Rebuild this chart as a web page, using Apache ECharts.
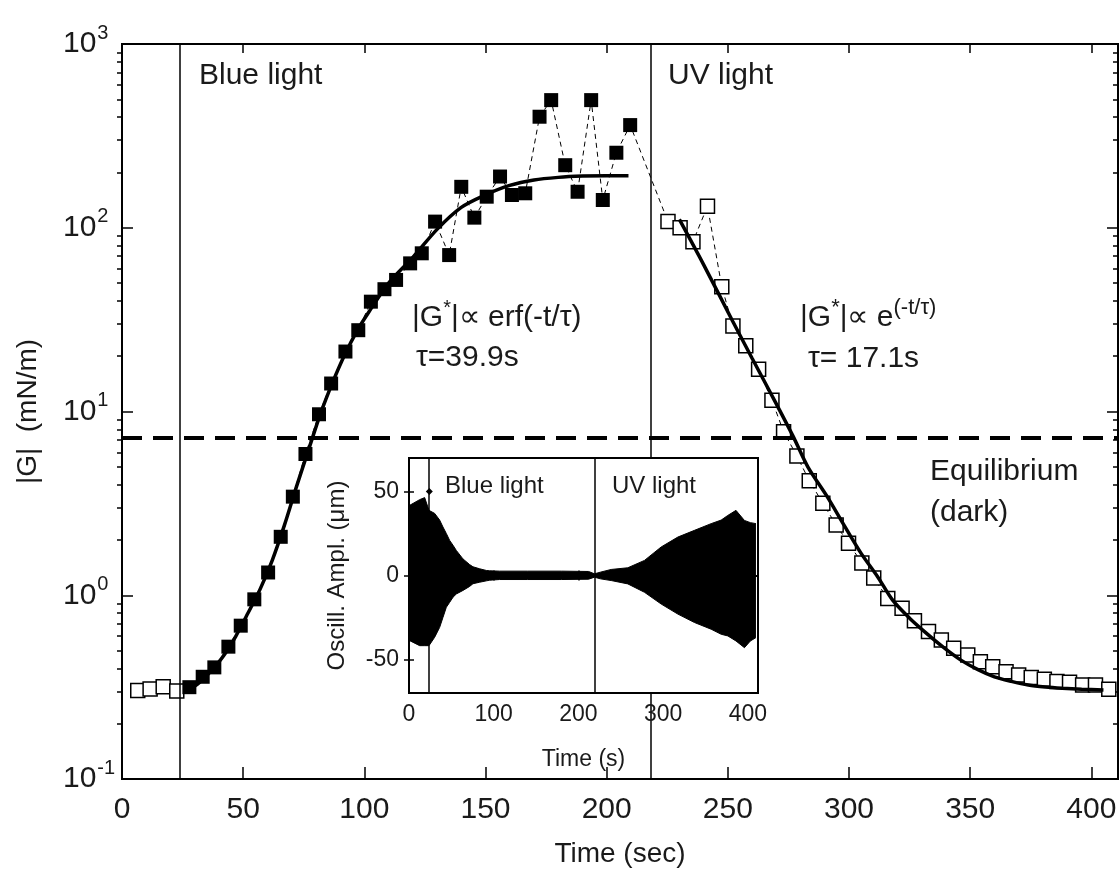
<!DOCTYPE html>
<html>
<head>
<meta charset="utf-8">
<script src="https://cdn.jsdelivr.net/npm/echarts@6/dist/echarts.min.js"></script>
<style>html,body{margin:0;background:#fff}#main{width:1120px;height:875px}</style>
</head>
<body>
<div id="main"></div>
<script>
(function () {
  var font = "'Liberation Sans', Arial, sans-serif";

  // light switching times (s) and the dark equilibrium modulus
  var lightOn = [23.7, 218];
  var insetLightOn = [23.6, 219];
  var equilibriumG = 7.2;

  // |G| before the blue light (open squares)
  var darkTime = [6.5, 11.6, 17.0, 22.6];
  var darkG = [0.303, 0.309, 0.318, 0.301];

  // |G| under blue light (filled squares)
  var blueTime = [27.8, 33.3, 38.1, 43.9, 49.0, 54.6, 60.3, 65.5, 70.5, 75.7, 81.3, 86.3, 92.2, 97.5,
    102.7, 108.3, 113.1, 118.9, 123.7, 129.2, 135.0, 140.0, 145.4, 150.5, 156.0, 160.9, 166.4,
    172.3, 177.1, 182.9, 188.0, 193.6, 198.4, 204.0, 209.7];
  var blueG = [0.316, 0.360, 0.405, 0.525, 0.683, 0.95, 1.33, 2.08, 3.44, 5.87, 9.66, 14.2, 21.2, 27.7,
    39.6, 46.3, 52, 64, 72.6, 108, 71, 167, 113.5, 147.6, 190, 150.7, 154,
    402, 495, 219, 157, 495, 141.6, 256, 362];

  // |G| under UV light (open squares)
  var uvTime = [225.3, 230.3, 235.6, 241.6, 247.5, 252.1, 257.4, 262.7, 268.2, 273.0, 278.5, 283.6,
    289.2, 294.7, 299.8, 305.3, 310.2, 316.0, 321.9, 327.0, 332.8, 338.1, 343.2, 349.0, 354.2,
    359.3, 364.8, 370.0, 375.2, 380.6, 385.8, 391.0, 396.4, 401.7, 407.2];
  var uvG = [108, 100, 84, 131, 47.8, 29.2, 22.8, 17, 11.5, 7.77, 5.73, 4.2,
    3.17, 2.41, 1.92, 1.50, 1.24, 0.96, 0.85, 0.727, 0.634, 0.571, 0.514, 0.473, 0.435,
    0.408, 0.384, 0.368, 0.357, 0.349, 0.339, 0.336, 0.325, 0.325, 0.308];

  // fitted curves
  var erfTime = [27, 32, 37, 42, 47, 52, 57, 62, 67, 72, 77, 82, 87, 92, 97, 102, 110, 120, 130, 140,
    150, 160, 170, 180, 190, 200, 209];
  var erfG = [0.30, 0.335, 0.39, 0.47, 0.60, 0.80, 1.08, 1.55, 2.4, 3.9, 6.2, 9.8, 14.5, 20.5, 27.5, 35,
    50, 69, 98, 129, 151, 170, 182, 188, 191, 192, 192];
  var expTime = [230, 240, 252, 260, 270, 277, 283, 291, 298, 305, 312, 318, 325, 332, 339, 346, 353,
    360, 367, 374, 381, 388, 396, 405];
  var expG = [111, 63, 31, 19.5, 11, 7.3, 5.0, 3.44, 2.4, 1.69, 1.25, 0.94, 0.75, 0.62, 0.52, 0.445,
    0.395, 0.36, 0.34, 0.325, 0.317, 0.312, 0.308, 0.305];

  // inset: envelope of the oscillation amplitude (um)
  var insetTime = [0.8, 12.6, 18.5, 23.6, 30.3, 36.2, 40.1, 44.1, 48, 52, 55.9, 63.7, 71.6, 75.5, 83.4,
    91.3, 95.2, 107, 140, 180, 212, 219, 226, 238.7, 258.3, 278, 297.7, 317.4, 337, 356.7, 368.5,
    376.4, 386, 396, 403, 409.6];
  var insetUpper = [41.8, 45.2, 46.4, 38.8, 37, 33, 28.9, 25, 20.9, 18, 14.9, 9.9, 6.5, 5.2, 4,
    3, 2.8, 2.6, 2.6, 2.6, 2.4, 1, 2, 3.6, 4.6, 9, 17, 22.9, 26.9, 30.9, 33,
    35.8, 38.8, 32.8, 31.5, 30.9];
  var insetLower = [-38.8, -41.8, -41.8, -41.8, -36.8, -30.9, -25, -18.9, -16, -12.9, -11, -8.9, -6.5, -4.9, -4,
    -3.2, -2.8, -2.4, -2.4, -2.4, -2.2, -1, -2, -3, -5, -10, -17, -23, -28, -32, -35,
    -36, -39, -43, -39, -37];
  var insetMarker = [[24, 50]];

  var yMajor = [0.1, 1, 10, 100, 1000];
  var yMinor = [];
  yMajor.slice(0, -1).forEach(function (d) {
    for (var k = 2; k <= 9; k++) yMinor.push(+(d * k).toPrecision(3));
  });
  var insetTicks = [-50, 0, 50];

  function pairs(xs, ys) {
    return xs.map(function (x, i) { return [x, ys[i]]; });
  }

  var myChart = echarts.init(document.getElementById('main'));

  var black = '#000';
  var ink = '#1a1a1a';
  var tickLine = { color: black, width: 1.5 };

  var option = {
    animation: false,
    backgroundColor: '#fff',
    grid: [
      { left: 122, top: 44, width: 996, height: 735, show: true, borderColor: black, borderWidth: 2 },
      { left: 409, top: 458, width: 349, height: 235, show: true, backgroundColor: '#fff',
        borderColor: black, borderWidth: 2, z: 10 }
    ],
    xAxis: [
      {
        gridIndex: 0, type: 'value', min: 0, max: 411, interval: 50,
        axisLine: { lineStyle: { color: black, width: 2 } },
        axisTick: { inside: true, length: 12, lineStyle: tickLine },
        axisLabel: { fontSize: 30, color: ink, fontFamily: font, margin: 16 },
        splitLine: { show: false },
        name: 'Time (sec)', nameLocation: 'middle', nameGap: 61,
        nameTextStyle: { fontSize: 28, color: ink, fontFamily: font }
      },
      {
        gridIndex: 0, type: 'value', position: 'top', min: 0, max: 411, interval: 50,
        axisLine: { lineStyle: { color: black, width: 2 } },
        axisTick: { inside: true, length: 9, lineStyle: tickLine },
        axisLabel: { show: false }, splitLine: { show: false }
      },
      {
        gridIndex: 1, type: 'value', min: 0, max: 412, interval: 100, z: 11,
        axisLine: { lineStyle: { color: black, width: 2 } },
        axisTick: { inside: true, length: 5, lineStyle: tickLine },
        axisLabel: { fontSize: 23, color: ink, fontFamily: font, margin: 10 },
        splitLine: { show: false },
        name: 'Time (s)', nameLocation: 'middle', nameGap: 55,
        nameTextStyle: { fontSize: 23, color: ink, fontFamily: font }
      },
      {
        gridIndex: 1, type: 'value', position: 'top', min: 0, max: 412, interval: 100, z: 11,
        axisLine: { lineStyle: { color: black, width: 2 } },
        axisTick: { inside: true, length: 5, lineStyle: tickLine },
        axisLabel: { show: false }, splitLine: { show: false }
      }
    ],
    yAxis: [
      {
        gridIndex: 0, type: 'log', logBase: 10, min: 0.1, max: 1000,
        axisLine: { lineStyle: { color: black, width: 2 } },
        axisTick: { inside: true, length: 11, lineStyle: tickLine, customValues: yMajor },
        axisLabel: {
          customValues: yMajor, align: 'left', margin: 59,
          formatter: function (v) {
            return '{b|10}{s|' + Math.round(Math.log10(v)) + '}';
          },
          rich: {
            b: { fontSize: 30, color: ink, fontFamily: font },
            s: { fontSize: 20, color: ink, fontFamily: font, padding: [0, 0, 22, 1] }
          }
        },
        splitLine: { show: false },
        name: '|G|  (mN/m)', nameLocation: 'middle', nameGap: 80, nameRotate: 90,
        nameTextStyle: { fontSize: 28, color: ink, fontFamily: font }
      },
      {
        gridIndex: 0, type: 'log', logBase: 10, min: 0.1, max: 1000,
        axisLine: { show: false },
        axisTick: { inside: true, length: 5, lineStyle: tickLine, customValues: yMinor },
        axisLabel: { show: false }, splitLine: { show: false }
      },
      {
        gridIndex: 0, type: 'log', logBase: 10, min: 0.1, max: 1000, position: 'right',
        axisLine: { lineStyle: { color: black, width: 2 } },
        axisTick: { inside: true, length: 11, lineStyle: tickLine, customValues: yMajor },
        axisLabel: { show: false }, splitLine: { show: false }
      },
      {
        gridIndex: 0, type: 'log', logBase: 10, min: 0.1, max: 1000, position: 'right',
        axisLine: { show: false },
        axisTick: { inside: true, length: 5, lineStyle: tickLine, customValues: yMinor },
        axisLabel: { show: false }, splitLine: { show: false }
      },
      {
        gridIndex: 1, type: 'value', min: -70, max: 70, z: 11,
        axisLine: { lineStyle: { color: black, width: 2 } },
        axisTick: { inside: true, length: 5, lineStyle: tickLine, customValues: insetTicks },
        axisLabel: { customValues: insetTicks, fontSize: 23, color: ink, fontFamily: font, margin: 10 },
        splitLine: { show: false },
        name: 'Oscill. Ampl. (\u03bcm)', nameLocation: 'middle', nameGap: 60, nameRotate: 90,
        nameTextStyle: { fontSize: 24, color: ink, fontFamily: font }
      },
      {
        gridIndex: 1, type: 'value', min: -70, max: 70, position: 'right', z: 11,
        axisLine: { lineStyle: { color: black, width: 2 } },
        axisTick: { inside: true, length: 5, lineStyle: tickLine, customValues: insetTicks },
        axisLabel: { show: false }, splitLine: { show: false }
      }
    ],
    series: [
      {
        name: 'connect', type: 'line', xAxisIndex: 0, yAxisIndex: 0, z: 2,
        data: pairs(blueTime.concat(uvTime), blueG.concat(uvG)),
        symbol: 'none', lineStyle: { color: black, width: 1, type: [5, 4] },
        markLine: {
          silent: true, symbol: 'none', label: { show: false },
          lineStyle: { color: black, width: 1.5, type: 'solid' },
          data: [
            { xAxis: lightOn[0] },
            { xAxis: lightOn[1] },
            { yAxis: equilibriumG, lineStyle: { color: black, width: 4, type: [20, 11] } }
          ]
        }
      },
      {
        name: 'dark', type: 'scatter', xAxisIndex: 0, yAxisIndex: 0, z: 3,
        data: pairs(darkTime, darkG), symbol: 'rect', symbolSize: 14,
        itemStyle: { color: '#fff', borderColor: black, borderWidth: 1.5, opacity: 1 }
      },
      {
        name: 'blue', type: 'scatter', xAxisIndex: 0, yAxisIndex: 0, z: 3,
        data: pairs(blueTime, blueG), symbol: 'rect', symbolSize: 14,
        itemStyle: { color: black, opacity: 1 }
      },
      {
        name: 'uv', type: 'scatter', xAxisIndex: 0, yAxisIndex: 0, z: 3,
        data: pairs(uvTime, uvG), symbol: 'rect', symbolSize: 14,
        itemStyle: { color: '#fff', borderColor: black, borderWidth: 1.5, opacity: 1 }
      },
      {
        name: 'erf fit', type: 'line', xAxisIndex: 0, yAxisIndex: 0, z: 4,
        data: pairs(erfTime, erfG), symbol: 'none', smooth: 0.3,
        lineStyle: { color: black, width: 3.5 }
      },
      {
        name: 'exp fit', type: 'line', xAxisIndex: 0, yAxisIndex: 0, z: 4,
        data: pairs(expTime, expG), symbol: 'none', smooth: 0.3,
        lineStyle: { color: black, width: 3.5 }
      },
      {
        name: 'upper', type: 'line', xAxisIndex: 2, yAxisIndex: 4, z: 12,
        data: pairs(insetTime, insetUpper), symbol: 'none',
        lineStyle: { color: black, width: 1 }, areaStyle: { color: black, opacity: 1, origin: 'auto' }
      },
      {
        name: 'lower', type: 'line', xAxisIndex: 2, yAxisIndex: 4, z: 12,
        data: pairs(insetTime, insetLower), symbol: 'none',
        lineStyle: { color: black, width: 1 }, areaStyle: { color: black, opacity: 1, origin: 'auto' }
      },
      {
        name: 'inset marks', type: 'scatter', xAxisIndex: 2, yAxisIndex: 4, z: 12,
        data: insetMarker, symbol: 'diamond', symbolSize: 7, itemStyle: { color: black, opacity: 1 },
        markLine: {
          z: 13, silent: true, symbol: 'none', label: { show: false },
          lineStyle: { color: black, width: 1.5, type: 'solid' },
          data: [{ xAxis: insetLightOn[0] }, { xAxis: insetLightOn[1] }]
        }
      }
    ],
    graphic: [
      { type: 'text', x: 199, y: 76, z: 20, style: { text: 'Blue light', font: '30px ' + font, fill: ink, verticalAlign: 'middle' } },
      { type: 'text', x: 668, y: 76, z: 20, style: { text: 'UV light', font: '30px ' + font, fill: ink, verticalAlign: 'middle' } },
      {
        type: 'text', x: 412, y: 318, z: 20,
        style: {
          text: '{n||G}{s|*}{n||\u221d erf(-t/\u03c4)}', verticalAlign: 'middle', fill: ink,
          rich: {
            n: { fontSize: 30, fontFamily: font, fill: ink },
            s: { fontSize: 20, fontFamily: font, fill: ink, padding: [0, 0, 20, 0] }
          }
        }
      },
      { type: 'text', x: 416, y: 358, z: 20, style: { text: '\u03c4=39.9s', font: '30px ' + font, fill: ink, verticalAlign: 'middle' } },
      {
        type: 'text', x: 800, y: 318, z: 20,
        style: {
          text: '{n||G}{s|*}{n||\u221d e}{s|(-t/\u03c4)}', verticalAlign: 'middle', fill: ink,
          rich: {
            n: { fontSize: 30, fontFamily: font, fill: ink },
            s: { fontSize: 22, fontFamily: font, fill: ink, padding: [0, 0, 20, 0] }
          }
        }
      },
      { type: 'text', x: 808, y: 359, z: 20, style: { text: '\u03c4= 17.1s', font: '30px ' + font, fill: ink, verticalAlign: 'middle' } },
      { type: 'text', x: 930, y: 472, z: 20, style: { text: 'Equilibrium', font: '30px ' + font, fill: ink, verticalAlign: 'middle' } },
      { type: 'text', x: 930, y: 513, z: 20, style: { text: '(dark)', font: '30px ' + font, fill: ink, verticalAlign: 'middle' } },
      { type: 'text', x: 445, y: 486, z: 20, style: { text: 'Blue light', font: '24px ' + font, fill: ink, verticalAlign: 'middle' } },
      { type: 'text', x: 612, y: 486, z: 20, style: { text: 'UV light', font: '24px ' + font, fill: ink, verticalAlign: 'middle' } }
    ]
  };
  myChart.setOption(option);
})();
</script>
</body>
</html>
